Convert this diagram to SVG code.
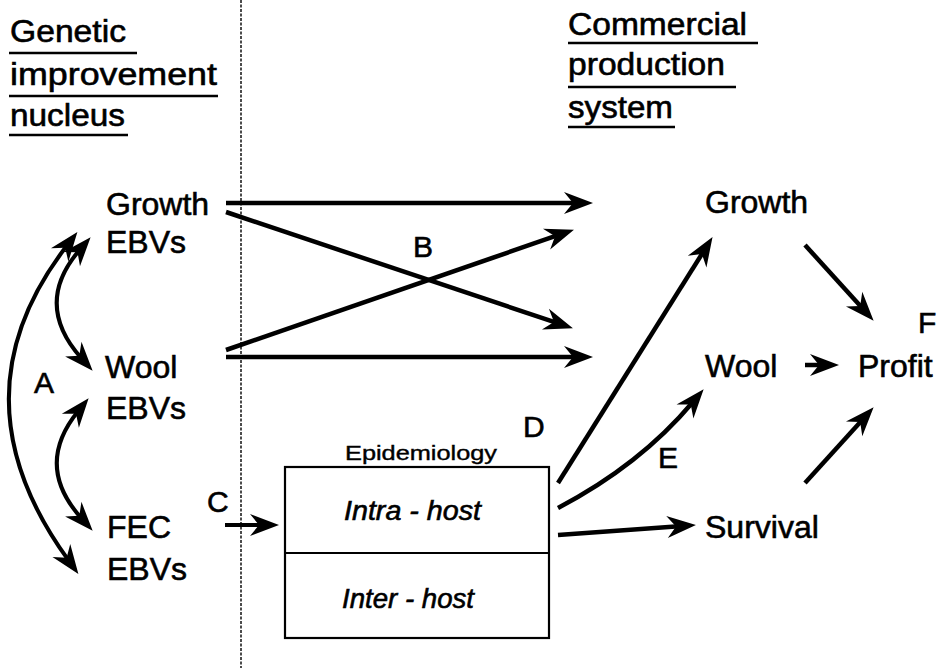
<svg xmlns="http://www.w3.org/2000/svg" width="940" height="668" viewBox="0 0 940 668">
<style>
text{font-family:"Liberation Sans",Arial,sans-serif;fill:#000;stroke:#000;stroke-width:0.6}
.h{font-size:31px}
.n{font-size:32px}
.l{font-size:30px}
.it{font-size:27px;font-style:italic}
.ep{font-size:21px;stroke-width:0.4}
.ul{stroke:#000;stroke-width:2.4;fill:none}
.c{stroke:#000;stroke-width:4.5;fill:none}
.a{stroke:#000;stroke-width:4;fill:none}
.box{fill:none;stroke:#000;stroke-width:2.2}
.div{stroke:#111;stroke-width:1.5;stroke-dasharray:3 1.5;fill:none}
</style>
<defs>
<marker id="ah" markerUnits="userSpaceOnUse" markerWidth="40" markerHeight="30" refX="12" refY="0" orient="auto" overflow="visible">
<path d="M29,0 L0,-11 L9,0 L0,11 Z" fill="#000"/>
</marker>
<marker id="ahs" markerUnits="userSpaceOnUse" markerWidth="40" markerHeight="30" refX="12" refY="0" orient="auto-start-reverse" overflow="visible">
<path d="M29,0 L0,-11 L9,0 L0,11 Z" fill="#000"/>
</marker>
</defs>
<rect width="940" height="668" fill="#fff"/>
<line class="div" x1="241" y1="0" x2="241" y2="668"/>

<g id="heading-left">
<text class="h" x="10" y="42" textLength="116" lengthAdjust="spacingAndGlyphs">Genetic</text>
<line class="ul" x1="9" y1="53" x2="137" y2="53"/>
<text class="h" x="10" y="85" textLength="207" lengthAdjust="spacingAndGlyphs">improvement</text>
<line class="ul" x1="9" y1="96" x2="218" y2="96"/>
<text class="h" x="10" y="126" textLength="115" lengthAdjust="spacingAndGlyphs">nucleus</text>
<line class="ul" x1="9" y1="135" x2="128" y2="135"/>
</g>
<g id="heading-right">
<text class="h" x="568" y="35" textLength="179" lengthAdjust="spacingAndGlyphs">Commercial</text>
<line class="ul" x1="568" y1="43" x2="758" y2="43"/>
<text class="h" x="568" y="75" textLength="157" lengthAdjust="spacingAndGlyphs">production</text>
<line class="ul" x1="568" y1="87" x2="736" y2="87"/>
<text class="h" x="568" y="118" textLength="105" lengthAdjust="spacingAndGlyphs">system</text>
<line class="ul" x1="568" y1="127" x2="675" y2="127"/>
</g>

<g id="growth-ebvs"><text class="n" x="106" y="215">Growth</text><text class="n" x="106" y="253">EBVs</text></g>
<g id="wool-ebvs"><text class="n" x="105" y="378">Wool</text><text class="n" x="106" y="419">EBVs</text></g>
<g id="fec-ebvs"><text class="n" x="107" y="538">FEC</text><text class="n" x="107" y="580">EBVs</text></g>

<g id="epidemiology">
<text class="ep" x="345" y="460" textLength="152" lengthAdjust="spacingAndGlyphs">Epidemiology</text>
<rect class="box" x="285" y="467" width="264" height="171"/>
<line class="box" x1="285" y1="553" x2="549" y2="553"/>
<text class="it" x="344" y="520" textLength="137" lengthAdjust="spacingAndGlyphs">Intra - host</text>
<text class="it" x="342" y="608" textLength="132" lengthAdjust="spacingAndGlyphs">Inter - host</text>
</g>

<g id="growth"><text class="n" x="705" y="213">Growth</text></g>
<g id="wool"><text class="n" x="705" y="377">Wool</text></g>
<g id="survival"><text class="n" x="705" y="538">Survival</text></g>
<g id="profit"><text class="n" x="858" y="377">Profit</text></g>

<g id="labels">
<text class="l" x="34" y="393">A</text>
<text class="l" x="413" y="257">B</text>
<text class="l" x="207" y="512">C</text>
<text class="l" x="523" y="437">D</text>
<text class="l" x="658" y="468">E</text>
<text class="l" x="918" y="333">F</text>
</g>

<g id="connectors">
<path class="a" d="M67,245.5 Q-50,397 68.4,560.2" marker-start="url(#ahs)" marker-end="url(#ahs)"/>
<path class="a" d="M79.5,250.1 Q33,304 81.3,358.1" marker-start="url(#ahs)" marker-end="url(#ahs)"/>
<path class="a" d="M77.9,411.4 Q34,465.5 81.3,518.1" marker-start="url(#ahs)" marker-end="url(#ahs)"/>
<path class="c" d="M226,203 L576,203" marker-end="url(#ah)"/>
<path class="c" d="M226,212 L556.8,322.9" marker-end="url(#ah)"/>
<path class="c" d="M226,350 L557.9,235.2" marker-end="url(#ah)"/>
<path class="c" d="M226,357 L576,357" marker-end="url(#ah)"/>
<path class="a" d="M225,525 L262,525" marker-end="url(#ah)"/>
<path class="c" d="M558,483 L703.5,251.5" marker-end="url(#ah)"/>
<path class="c" d="M558,508 Q640,465 692.7,402.3" marker-end="url(#ah)"/>
<path class="c" d="M558,535 L679,526.2" marker-end="url(#ah)"/>
<path class="c" d="M805,245 L862.2,308.1" marker-end="url(#ah)"/>
<path class="c" d="M805,365 L822,365" marker-end="url(#ah)"/>
<path class="c" d="M805,483 L862.2,419.9" marker-end="url(#ah)"/>
</g>
</svg>
